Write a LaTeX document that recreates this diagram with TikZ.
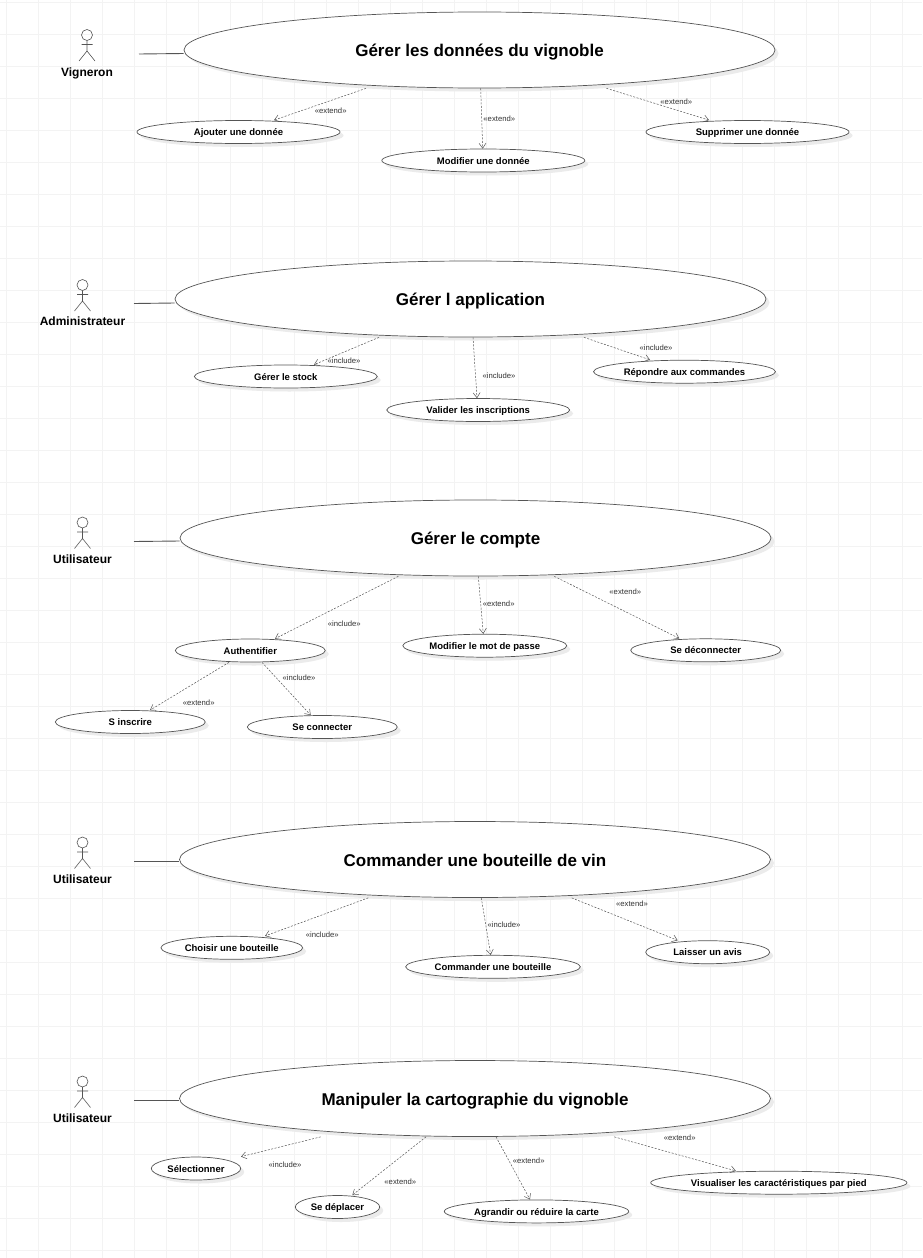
\documentclass[tikz,border=0pt]{standalone}
\usepackage{fontspec}
\setmainfont{Liberation Sans}
\usetikzlibrary{arrows.meta, shapes.geometric, shadows}

\definecolor{gridgray}{HTML}{F3F3F3}
\definecolor{linegray}{HTML}{555555}

\begin{document}
\begin{tikzpicture}[
        x=1pt, y=-1pt,
        gridline/.style={draw=gridgray, line width=0.8pt},
        usecase/.style={ellipse, draw=linegray, line width=0.7pt, fill=white, inner sep=0pt, text=black, text depth=0pt,
            drop shadow={shadow xshift=3.5pt, shadow yshift=-3.5pt, fill=black!8, opacity=1}},
        mainuse/.style={usecase, text height=13.5pt, minimum width=591pt, minimum height=76pt, font=\bfseries\fontsize{17}{19}\selectfont},
        subuse/.style={usecase, text height=7.2pt, minimum height=23pt, font=\bfseries\fontsize{9.5}{11}\selectfont},
        actorname/.style={font=\bfseries\fontsize{12}{14}\selectfont, inner sep=0pt},
        stereotype/.style={font=\fontsize{7.7}{9}\selectfont, text=black!80, inner sep=0pt},
        association/.style={draw=linegray, line width=0.9pt},
        relation/.style={-{Straight Barb[length=5pt, width=7pt]}, draw=linegray, line width=0.5pt, dash pattern=on 2pt off 1.5pt},
        actor/.pic={
            \draw[draw=linegray, line width=0.6pt] (0,0) circle (5.5pt);
            \draw[draw=linegray, line width=0.6pt] (0,5.5) -- (0,16) (-5.5,9.5) -- (5.5,9.5) (-8,26) -- (0,16) -- (8,26);
        }
    ]
    \useasboundingbox (0,0) rectangle (922,1258);
    \fill[white] (0,0) rectangle (922,1258);

    % Grid
    \foreach \gx in {0,...,28} \draw[gridline] (6.5+32*\gx,0) -- (6.5+32*\gx,1258);
    \foreach \gy in {0,...,39} \draw[gridline] (0,2+32*\gy) -- (922,2+32*\gy);

    % Actors
    \pic at (87,35) {actor};
    \pic at (82.5,285) {actor};
    \pic at (82.5,522.5) {actor};
    \pic at (82.5,842.5) {actor};
    \pic at (82.5,1081.5) {actor};
    \node[actorname] (vigneron) at (87,73) {Vigneron};
    \node[actorname] (admin) at (82.5,321) {Administrateur};
    \node[actorname] (userCompte) at (82.5,559) {Utilisateur};
    \node[actorname] (userCommande) at (82.5,879) {Utilisateur};
    \node[actorname] (userCarte) at (82.5,1118) {Utilisateur};
    \coordinate (vigneronEnd) at (139,54);
    \coordinate (adminEnd) at (134,303.5);
    \coordinate (userCompteEnd) at (134,541.5);
    \coordinate (userCommandeEnd) at (134,861.5);
    \coordinate (userCarteEnd) at (134,1100.5);

    % Use cases
    \node[mainuse] (donnees) at (479.5,50) {Gérer les données du vignoble};
    \node[subuse, minimum width=203pt] (ajouter) at (238.5,132) {Ajouter une donnée};
    \node[subuse, minimum width=203pt] (modifier) at (483.3,160.5) {Modifier une donnée};
    \node[subuse, minimum width=203pt] (supprimer) at (747.5,132) {Supprimer une donnée};

    \node[mainuse] (application) at (470.5,299) {Gérer l application};
    \node[subuse, minimum width=183pt] (stock) at (285.8,376.5) {Gérer le stock};
    \node[subuse, minimum width=183pt] (valider) at (478.2,410) {Valider les inscriptions};
    \node[subuse, minimum width=182pt] (repondre) at (684.5,371.7) {Répondre aux commandes};

    \node[mainuse] (compte) at (475.5,538) {Gérer le compte};
    \node[subuse, minimum width=150pt] (authentifier) at (250.3,650.5) {Authentifier};
    \node[subuse, minimum width=150pt] (inscrire) at (130.3,722) {S inscrire};
    \node[subuse, minimum width=150pt] (connecter) at (322.3,727) {Se connecter};
    \node[subuse, minimum width=164pt] (motpasse) at (484.8,645.7) {Modifier le mot de passe};
    \node[subuse, minimum width=150pt] (deconnecter) at (705.7,650.3) {Se déconnecter};

    \node[mainuse] (commander) at (475,859.5) {Commander une bouteille de vin};
    \node[subuse, minimum width=141.7pt] (choisir) at (231.8,947.8) {Choisir une bouteille};
    \node[subuse, minimum width=174.7pt] (bouteille) at (493,966.8) {Commander une bouteille};
    \node[subuse, minimum width=124pt] (avis) at (707.7,952.2) {Laisser un avis};

    \node[mainuse] (carto) at (475,1098.5) {Manipuler la cartographie du vignoble};
    \node[subuse, minimum width=89.4pt] (selectionner) at (196,1168.5) {Sélectionner};
    \node[subuse, minimum width=84.4pt] (deplacer) at (337.5,1207) {Se déplacer};
    \node[subuse, minimum width=184.4pt] (agrandir) at (536.5,1211.4) {Agrandir ou réduire la carte};
    \node[subuse, minimum width=256.3pt] (visualiser) at (778.8,1182.7) {Visualiser les caractéristiques par pied};

    % Associations
    \draw[association] (vigneronEnd) -- ([yshift=-3.5pt]donnees.west);
    \draw[association] (adminEnd) -- ([yshift=-4pt]application.west);
    \draw[association] (userCompteEnd) -- ([yshift=-3pt]compte.west);
    \draw[association] (userCommandeEnd) -- ([yshift=-2pt]commander.west);
    \draw[association] (userCarteEnd) -- ([yshift=-2pt]carto.west);

    % Relations
    \draw[relation] ([xshift=-113.5pt]donnees.south) -- ([xshift=35.5pt]ajouter.north);
    \draw[relation] ([xshift=1.2pt]donnees.south) -- ([xshift=-0.6pt]modifier.north);
    \draw[relation] ([xshift=127pt]donnees.south) -- ([xshift=-38.5pt]supprimer.north);
    \draw[relation] ([xshift=-91.5pt]application.south) -- ([xshift=28.2pt]stock.north);
    \draw[relation] ([xshift=2.5pt]application.south) -- ([xshift=-1.2pt]valider.north);
    \draw[relation] ([xshift=113.5pt]application.south) -- ([xshift=-34.5pt]repondre.north);
    \draw[relation] ([xshift=-77.2pt]compte.south) -- ([xshift=24.7pt]authentifier.north);
    \draw[relation] ([xshift=2.8pt]compte.south) -- ([xshift=-1.5pt]motpasse.north);
    \draw[relation] ([xshift=78.8pt]compte.south) -- ([xshift=-26.4pt]deconnecter.north);
    \draw[relation] ([xshift=-21.3pt]authentifier.south) -- ([xshift=19.7pt]inscrire.north);
    \draw[relation] ([xshift=11.7pt]authentifier.south) -- ([xshift=-11.6pt]connecter.north);
    \draw[relation] ([xshift=-106.7pt]commander.south) -- ([xshift=33.2pt]choisir.north);
    \draw[relation] ([xshift=6.3pt]commander.south) -- ([xshift=-2.3pt]bouteille.north);
    \draw[relation] ([xshift=96.7pt]commander.south) -- ([xshift=-30pt]avis.north);
    \draw[relation] ([xshift=-154.3pt]carto.south) -- ([xshift=45pt]selectionner.north);
    \draw[relation] ([xshift=-49pt]carto.south) -- ([xshift=14.8pt]deplacer.north);
    \draw[relation] ([xshift=21pt]carto.south) -- ([xshift=-6.5pt]agrandir.north);
    \draw[relation] ([xshift=139.3pt]carto.south) -- ([xshift=-43pt]visualiser.north);

    % Stereotypes
    \node[stereotype] (labelAjouter) at (330.7,110.5) {«extend»};
    \node[stereotype] (labelModifier) at (499.3,118.3) {«extend»};
    \node[stereotype] (labelSupprimer) at (676.3,101.3) {«extend»};
    \node[stereotype] (labelStock) at (344,360.3) {«include»};
    \node[stereotype] (labelValider) at (499,375.3) {«include»};
    \node[stereotype] (labelRepondre) at (656,347.3) {«include»};
    \node[stereotype] (labelAuth) at (344.3,623.3) {«include»};
    \node[stereotype] (labelMotpasse) at (498.7,603.3) {«extend»};
    \node[stereotype] (labelDeconnecter) at (625.3,591.3) {«extend»};
    \node[stereotype] (labelInscrire) at (198.7,702.3) {«extend»};
    \node[stereotype] (labelConnecter) at (299,677.3) {«include»};
    \node[stereotype] (labelChoisir) at (322.3,934.3) {«include»};
    \node[stereotype] (labelBouteille) at (504,924.3) {«include»};
    \node[stereotype] (labelAvis) at (632,903.3) {«extend»};
    \node[stereotype] (labelSelectionner) at (285,1165) {«include»};
    \node[stereotype] (labelDeplacer) at (400.3,1181.3) {«extend»};
    \node[stereotype] (labelAgrandir) at (528.7,1160.3) {«extend»};
    \node[stereotype] (labelVisualiser) at (679.7,1137.3) {«extend»};
\end{tikzpicture}
\end{document}
